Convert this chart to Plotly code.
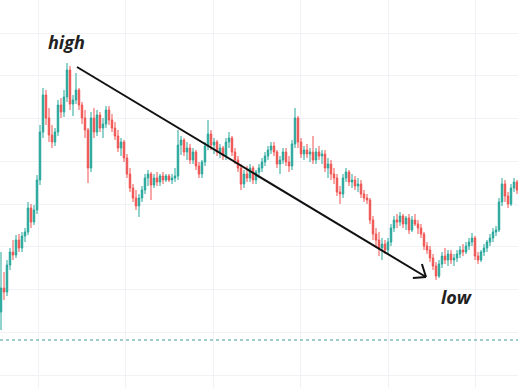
import plotly.graph_objects as go

# Candle data (arbitrary price units), one candle per period
first_open = 88
close = [112, 108, 135, 148, 145, 160, 152, 164, 168, 192, 178, 190, 220, 268, 305, 282, 265, 258, 268, 295,
         288, 303, 330, 296, 300, 310, 295, 282, 270, 232, 282, 268, 285, 272, 276, 290, 280, 272, 264, 252,
         258, 242, 226, 212, 202, 194, 202, 210, 222, 226, 215, 222, 218, 224, 220, 224, 220, 222, 224, 255,
         260, 248, 252, 240, 248, 234, 226, 238, 254, 266, 255, 258, 248, 252, 244, 258, 262, 248, 240, 232,
         216, 226, 222, 232, 220, 228, 232, 238, 244, 250, 254, 248, 236, 240, 248, 238, 234, 256, 282, 258,
         246, 250, 246, 248, 240, 248, 244, 246, 232, 236, 226, 222, 208, 206, 222, 228, 218, 220, 214, 216,
         206, 202, 200, 180, 166, 160, 152, 156, 150, 158, 172, 180, 178, 184, 176, 182, 170, 180, 176, 172,
         166, 154, 150, 142, 134, 124, 136, 144, 140, 146, 140, 142, 146, 150, 148, 154, 158, 162, 144, 140,
         148, 152, 158, 162, 168, 170, 198, 216, 204, 196, 212, 218, 210]
high = [148, 128, 140, 152, 160, 165, 166, 168, 172, 198, 196, 195, 225, 275, 312, 310, 292, 275, 272, 300,
        302, 310, 337, 334, 305, 327, 312, 298, 290, 272, 288, 292, 290, 288, 282, 294, 294, 286, 278, 270,
        262, 260, 246, 232, 216, 210, 206, 214, 226, 230, 228, 226, 228, 226, 228, 226, 226, 226, 232, 270,
        264, 262, 258, 256, 252, 250, 238, 240, 258, 280, 270, 262, 260, 256, 254, 262, 268, 264, 252, 244,
        236, 230, 234, 236, 234, 230, 236, 242, 248, 254, 258, 258, 250, 244, 252, 252, 244, 260, 292, 284,
        262, 254, 256, 252, 264, 252, 254, 250, 250, 242, 240, 232, 226, 214, 226, 232, 230, 226, 224, 222,
        220, 210, 206, 202, 184, 172, 168, 162, 160, 162, 176, 184, 186, 188, 186, 184, 186, 184, 186, 180,
        176, 168, 158, 154, 146, 138, 140, 148, 152, 150, 150, 146, 150, 154, 156, 158, 162, 167, 164, 148,
        150, 156, 160, 166, 172, 174, 202, 222, 220, 208, 216, 222, 220]
low = [70, 100, 104, 130, 140, 142, 148, 148, 158, 165, 172, 175, 186, 215, 262, 275, 258, 252, 254, 264,
       282, 283, 298, 290, 284, 296, 290, 276, 262, 217, 228, 262, 264, 268, 262, 272, 275, 268, 260, 248,
       244, 238, 222, 208, 198, 190, 183, 198, 206, 214, 200, 212, 214, 214, 216, 218, 218, 216, 218, 220,
       245, 244, 240, 236, 236, 230, 222, 222, 234, 250, 250, 246, 244, 242, 240, 240, 252, 244, 236, 228,
       210, 212, 218, 218, 216, 216, 222, 228, 234, 240, 246, 244, 232, 226, 236, 234, 228, 230, 252, 252,
       242, 240, 242, 238, 236, 236, 240, 236, 228, 222, 220, 216, 204, 196, 202, 218, 214, 212, 210, 208,
       202, 198, 196, 176, 160, 152, 144, 140, 146, 146, 154, 168, 172, 174, 172, 170, 166, 168, 174, 166,
       162, 150, 146, 138, 130, 120, 122, 132, 136, 134, 136, 134, 138, 142, 144, 146, 150, 154, 140, 136,
       138, 144, 148, 154, 158, 164, 168, 194, 198, 192, 194, 208, 206]
open_ = [first_open] + close[:-1]
period = list(range(len(close)))

dotted_level = 60

fig = go.Figure()
fig.add_trace(go.Candlestick(
    x=period, open=open_, high=high, low=low, close=close,
    increasing=dict(line=dict(color="#26a69a", width=1), fillcolor="#26a69a"),
    decreasing=dict(line=dict(color="#ef5350", width=1), fillcolor="#ef5350"),
    whiskerwidth=0, showlegend=False, hoverinfo="skip",
))

grid = "#f0f2f5"
fig.update_layout(
    width=518, height=388,
    margin=dict(l=0, r=0, t=0, b=0),
    paper_bgcolor="white", plot_bgcolor="white",
    xaxis=dict(range=[-0.333, 172.333], showticklabels=False, showgrid=True, gridcolor=grid,
               tick0=12.4, dtick=29.15, zeroline=False, rangeslider=dict(visible=False),
               showline=False, fixedrange=True),
    yaxis=dict(range=[12, 400], showticklabels=False, showgrid=True, gridcolor=grid,
               tick0=25, dtick=42.75, zeroline=False, showline=False, fixedrange=True),
)

# dotted horizontal line
fig.add_shape(type="line", xref="paper", x0=0, x1=1, yref="y", y0=dotted_level, y1=dotted_level,
              line=dict(color="#3f9c9a", width=1, dash="dot"))

# trend arrow
fig.add_shape(type="line", x0=25.33, y0=333, x1=141.67, y1=123, line=dict(color="#111", width=2))
fig.add_shape(type="line", x0=141.67, y0=123, x1=137.3, y1=122, line=dict(color="#111", width=2))
fig.add_shape(type="line", x0=141.67, y0=123, x1=140.3, y1=136, line=dict(color="#111", width=2))

fig.add_annotation(x=21.7, y=358, text="high", showarrow=False,
                   font=dict(family="Open Sans", size=18, color="#222", style="italic", weight="bold"))
fig.add_annotation(x=152, y=103, text="low", showarrow=False,
                   font=dict(family="Open Sans", size=18, color="#222", style="italic", weight="bold"))

fig.write_html("out.html", config={"displayModeBar": False},
               post_script="document.body.style.margin='0';document.body.style.padding='0';")
